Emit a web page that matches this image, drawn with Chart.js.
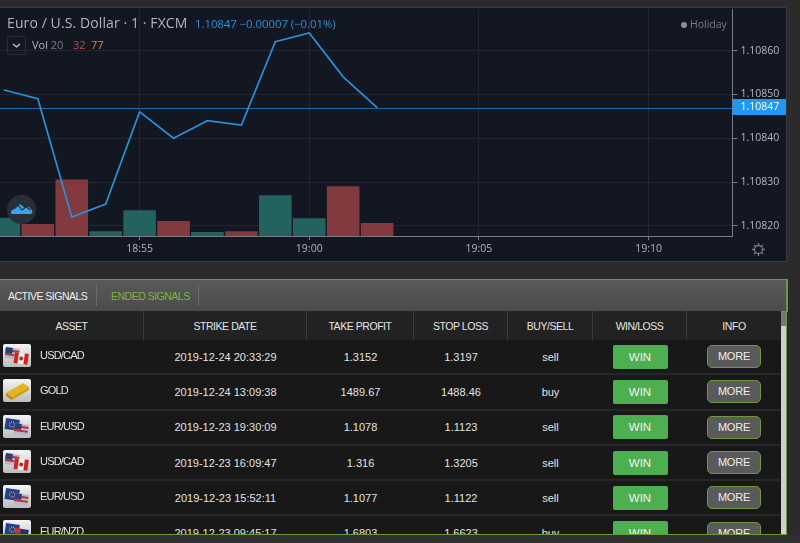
<!DOCTYPE html>
<html>
<head>
<meta charset="utf-8">
<script src="https://cdn.jsdelivr.net/npm/chart.js@4"></script>
<style>
html, body { margin: 0; padding: 0; width: 800px; height: 543px; overflow: hidden; background: #2b2b2b; }
body { position: relative; font-family: "Liberation Sans", Arial, sans-serif; color: #e6e6e6; }
.abs { position: absolute; white-space: nowrap; }
#panel { position: absolute; left: 0; top: 8px; width: 786px; height: 253px; background: #131722; outline: 1px solid #363a45; }
#hist { position: absolute; left: 0; top: 0; }
.tv { font-family: "Open Sans", sans-serif; }
#tabs { position: absolute; left: -1px; top: 279px; width: 787px; height: 31px; border: 1px solid #6b9a3c; background: linear-gradient(#5a5a5a, #4b4b4b); font-size: 10.5px; letter-spacing: -0.5px; }
#tabs span { position: absolute; top: 10px; }
#tabs i { position: absolute; top: 5px; width: 1px; height: 21px; background: #6b6b6b; }
#tableBox { position: absolute; left: 0; top: 311px; width: 781px; height: 223px; overflow: hidden; background: #262626; }
#signals { border-collapse: separate; border-spacing: 0; table-layout: fixed; width: 781px; font-size: 11px; }
#signals th { box-sizing: border-box; height: 29px; padding: 0; font-weight: normal; font-size: 10.5px; letter-spacing: -0.45px; background: #222; border-right: 1px solid #3c3c3c; color: #e4e4e4; }
#signals th:last-child { border-right: 0; }
#signals td { height: 33.3px; padding: 0; background: #181818; border-bottom: 2px solid #262626; text-align: center; color: #e2e2e2; }
#signals td.asset { text-align: left; position: relative; }
.icon { position: absolute; left: 3px; top: 4px; width: 28px; height: 23px; border-radius: 2px; background: linear-gradient(#f4f4f4, #bdbdbd); }
.name { position: absolute; left: 40px; top: 9px; letter-spacing: -0.8px; }
.win { display: inline-block; width: 55px; height: 24px; line-height: 24px; background: #4caf50; border-radius: 2px; color: #f2f2f2; font-size: 11.5px; }
.more { display: inline-block; width: 52px; height: 21px; line-height: 21px; background: #5a5a5a; border: 1px solid #6b9a3c; border-radius: 5px; color: #eee; font-size: 11px; letter-spacing: -0.2px; }
#scroll { position: absolute; left: 781px; top: 312px; width: 5px; height: 222px; background: #cfcfcf; }
#thumb { position: absolute; left: 0; top: 0; width: 5px; height: 14px; background: #777; }
#frameR { position: absolute; left: 786px; top: 279px; width: 1px; height: 256px; background: #6b9a3c; }
#frameB { position: absolute; left: 0; top: 534px; width: 787px; height: 1px; background: #6b9a3c; }
#bottom { position: absolute; left: 0; top: 535px; width: 800px; height: 8px; background: #303030; }
</style>
</head>
<body>
<div id="panel"></div>
<canvas id="hist" width="786" height="261"></canvas>

<div class="abs tv" style="left:7px;top:13px;font-size:14px;letter-spacing:0.1px;color:#b2b5be">Euro / U.S. Dollar · 1 · FXCM</div>
<div class="abs tv" style="left:195px;top:16px;font-size:11.3px;color:#2a8fd8">1.10847 −0.00007 (−0.01%)</div>
<div class="abs" style="left:7px;top:36px;width:17px;height:17px;border:1px solid #2a2e39;border-radius:3px">
  <svg width="17" height="17"><path d="M5 7 L8.5 10 L12 7" fill="none" stroke="#c8cad0" stroke-width="1.3"/></svg>
</div>
<div class="abs tv" style="left:32px;top:37px;font-size:11px;color:#b2b5be">Vol <span style="color:#787b86">20</span></div>
<div class="abs tv" style="left:73px;top:37px;font-size:11px;color:#c2474c">32</div>
<div class="abs tv" style="left:91px;top:37px;font-size:11px;color:#d08a3a">77</div>
<div class="abs" style="left:681px;top:22px;width:6px;height:6px;border-radius:3px;background:#8a8d96"></div>
<div class="abs tv" style="left:690px;top:17px;font-size:10.5px;color:#787b86">Holiday</div>

<svg class="abs" style="left:7px;top:195px" width="29" height="29">
  <circle cx="14.5" cy="14.5" r="14.5" fill="#2a2e39"/>
  <path d="M4 18 C4 15 6 14 8 14 L13 9 L18 13 C20 12 22 11 24 14 C26 15 26 19 23 19 L6 19 C5 19 4 19 4 18 Z" fill="#39a3ee"/>
  <path d="M6 14 L11 10 L15 15 L19 12 L24 15" fill="none" stroke="#2a2e39" stroke-width="1.2"/>
</svg>

<svg class="abs" style="left:751px;top:242px" width="15" height="15">
  <circle cx="7.5" cy="7.5" r="4" fill="none" stroke="#787b86" stroke-width="1.3"/>
  <path d="M7.5 1 V3.5 M7.5 11.5 V14 M1 7.5 H3.5 M11.5 7.5 H14 M3 3 L4.7 4.7 M10.3 10.3 L12 12 M12 3 L10.3 4.7 M4.7 10.3 L3 12" stroke="#787b86" stroke-width="1.3"/>
</svg>

<div id="tabs">
  <span style="left:8px;color:#eee">ACTIVE SIGNALS</span><i style="left:96px"></i>
  <span style="left:111px;color:#7fb03f">ENDED SIGNALS</span><i style="left:198px"></i>
</div>
<div id="tableBox">
  <table id="signals"><thead><tr id="headRow"></tr></thead><tbody id="rows"></tbody></table>
</div>
<div id="scroll"><div id="thumb"></div></div>
<div id="frameR"></div>
<div id="frameB"></div>
<div id="bottom"></div>

<script>
// price chart
var times = ['18:51','18:52','18:53','18:54','18:55','18:56','18:57','18:58','18:59','19:00','19:01','19:02'];
var prices = [1.10851,1.10849,1.10822,1.10825,1.10846,1.10840,1.10844,1.10843,1.10862,1.10864,1.10854,1.10847];
var volumes = [45,30,140,12,64,37,10,12,101,44,123,32];
var volumeDirs = ['up','down','down','up','up','down','up','down','up','up','down','down'];
var priceTicks = [1.1082,1.1083,1.1084,1.1085,1.1086];
var timeTicks = ['18:55','19:00','19:05','19:10'];
var lastPrice = 1.10847;

// signals table
var columns = ['ASSET','STRIKE DATE','TAKE PROFIT','STOP LOSS','BUY/SELL','WIN/LOSS','INFO'];
var assets = ['USD/CAD','GOLD','EUR/USD','USD/CAD','EUR/USD','EUR/NZD'];
var strikeDates = ['2019-12-24 20:33:29','2019-12-24 13:09:38','2019-12-23 19:30:09','2019-12-23 16:09:47','2019-12-23 15:52:11','2019-12-23 09:45:17'];
var takeProfits = ['1.3152','1489.67','1.1078','1.316','1.1077','1.6803'];
var stopLosses = ['1.3197','1488.46','1.1123','1.3205','1.1122','1.6623'];
var sides = ['sell','buy','sell','sell','sell','buy'];
var results = ['WIN','WIN','WIN','WIN','WIN','WIN'];
var colWidths = [144,163,107,94,85,94,94];

function toMinutes(t){
    var p = t.split(':');
    return parseInt(p[0]) * 60 + parseInt(p[1]);
}

var xMin = toMinutes('18:55') - 4.115;
var xMax = toMinutes('19:10') + 2.475;

// last price line and blue tag on the price axis
var priceTag = {
    id: 'priceTag',
    beforeDatasetsDraw: function(chart){
        var y = Math.round(chart.scales.y.getPixelForValue(lastPrice));
        chart.ctx.fillStyle = '#1e6aa8';
        chart.ctx.fillRect(chart.chartArea.left, y, chart.chartArea.right - chart.chartArea.left, 1);
    },
    afterDraw: function(chart){
        var y = Math.floor(chart.scales.y.getPixelForValue(lastPrice));
        var ctx = chart.ctx;
        ctx.save();
        ctx.fillStyle = '#2196f3';
        ctx.fillRect(chart.chartArea.right, y - 8, 54, 16);
        ctx.fillStyle = '#fff';
        ctx.font = '10.5px "Open Sans"';
        ctx.textBaseline = 'middle';
        ctx.fillText(lastPrice.toFixed(5), chart.chartArea.right + 8, y);
        ctx.restore();
    }
};

new Chart(document.getElementById('hist').getContext('2d'), {
    type: 'bar',
    plugins: [priceTag],
    data: {
        datasets: [
            {
                type: 'line',
                data: times.map(function(t, i){ return { x: toMinutes(t), y: prices[i] }; }),
                borderColor: '#2a8fd8',
                borderWidth: 1.7,
                pointRadius: 0,
                tension: 0,
                yAxisID: 'y',
                order: 1
            },
            {
                type: 'bar',
                data: times.map(function(t, i){ return { x: toMinutes(t), y: volumes[i] }; }),
                backgroundColor: volumeDirs.map(function(d){ return d == 'up' ? '#24625f' : '#823a3e'; }),
                barPercentage: 0.96,
                categoryPercentage: 1,
                yAxisID: 'vol',
                order: 3
            }
        ]
    },
    options: {
        responsive: false,
        animation: false,
        layout: { padding: { top: 8 } },
        plugins: { legend: { display: false }, tooltip: { enabled: false } },
        scales: {
            x: {
                type: 'linear',
                offset: false,
                min: xMin,
                max: xMax,
                afterBuildTicks: function(scale){
                    scale.ticks = timeTicks.map(function(t){ return { value: toMinutes(t) }; });
                },
                afterFit: function(scale){ scale.height = 25; },
                grid: { offset: false, color: '#232733', tickColor: '#787b86', tickLength: 4 },
                border: { color: '#787b86' },
                ticks: {
                    color: '#b2b5be',
                    padding: 3,
                    maxRotation: 0,
                    font: { family: 'Open Sans', size: 10.5 },
                    callback: function(value){
                        return timeTicks.filter(function(t){ return toMinutes(t) == value; })[0];
                    }
                }
            },
            y: {
                position: 'right',
                min: 1.108177,
                max: 1.108694,
                afterBuildTicks: function(scale){
                    scale.ticks = priceTicks.map(function(v){ return { value: v }; });
                },
                afterFit: function(scale){ scale.width = 53.5; },
                grid: { color: '#232733', tickColor: '#787b86', tickLength: 5 },
                border: { color: '#787b86' },
                ticks: {
                    color: '#b2b5be',
                    padding: 3,
                    font: { family: 'Open Sans', size: 10.5 },
                    callback: function(value){ return value.toFixed(5); }
                }
            },
            vol: {
                display: false,
                min: 0,
                max: 561
            }
        }
    }
});

// little asset pictures
function flagSvg(asset){
    var us = '<rect x="0" y="0" width="14" height="11" fill="#b8b8c8"/><path d="M0 3H14M0 7H14" stroke="#b33" stroke-width="2"/><rect width="7" height="6" fill="#2a3f7a"/>';
    var ca = '<rect width="14" height="11" fill="#eee"/><rect width="4" height="11" fill="#c22"/><rect x="10" width="4" height="11" fill="#c22"/><circle cx="7" cy="5.5" r="2" fill="#c22"/>';
    var eu = '<rect width="14" height="11" fill="#24408e"/><circle cx="7" cy="5.5" r="2.5" fill="none" stroke="#e8c83c" stroke-dasharray="1 1"/>';
    var nz = '<rect width="14" height="11" fill="#20307a"/><rect width="6" height="5" fill="#c33"/><circle cx="10" cy="6" r="1" fill="#d33"/>';
    var inner;
    if(asset == 'GOLD'){
        inner = '<path d="M3 14 L20 4 L26 8 L9 18 Z" fill="#e8b422"/><path d="M3 14 L9 18 L9 21 L3 17 Z" fill="#b98a18"/><path d="M9 18 L26 8 L26 11 L9 21 Z" fill="#cf9d1c"/>';
    } else {
        var pair = { USD: us, CAD: ca, EUR: eu, NZD: nz };
        var code = asset.split('/');
        inner = '<g transform="translate(3,3) rotate(8)">' + pair[code[0]] + '</g>' +
                '<g transform="translate(12,8) rotate(8)">' + pair[code[1]] + '</g>';
    }
    return '<svg width="28" height="23">' + inner + '</svg>';
}

var head = '';
columns.forEach(function(c, i){
    head += '<th style="width:' + colWidths[i] + 'px">' + c + '</th>';
});
document.getElementById('headRow').innerHTML = head;

var body = '';
assets.forEach(function(a, i){
    body += '<tr>' +
        '<td class="asset"><div class="icon">' + flagSvg(a) + '</div><span class="name">' + a + '</span></td>' +
        '<td>' + strikeDates[i] + '</td>' +
        '<td>' + takeProfits[i] + '</td>' +
        '<td>' + stopLosses[i] + '</td>' +
        '<td>' + sides[i] + '</td>' +
        '<td><span class="win">' + results[i] + '</span></td>' +
        '<td><span class="more">MORE</span></td>' +
        '</tr>';
});
document.getElementById('rows').innerHTML = body;
</script>
</body>
</html>
